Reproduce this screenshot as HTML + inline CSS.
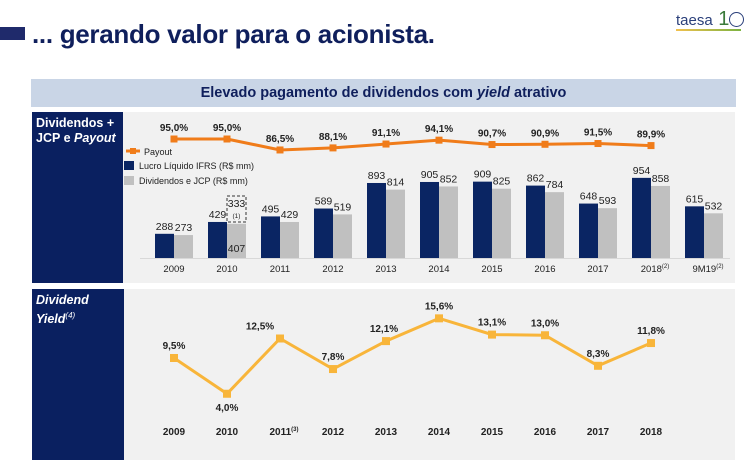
<!DOCTYPE html>
<html><head><meta charset="utf-8"><style>
body{margin:0;width:755px;height:463px;background:#fff;font-family:"Liberation Sans",sans-serif;position:relative;overflow:hidden}
.abs{position:absolute}
</style></head><body>
<div class="abs" style="left:0;top:27px;width:25px;height:13px;background:#1f2a6b"></div>
<div class="abs" style="left:32px;top:19px;font-size:26px;font-weight:bold;color:#0f1f5c;letter-spacing:-0.3px">... gerando valor para o acionista.</div>
<div class="abs" style="left:676px;top:8px;font-size:15px;color:#2a3f7a">taesa<span style="color:#3a7a3a;font-size:20px"> 1</span><span style="display:inline-block;width:13px;height:13px;border:1.5px solid #2a3f7a;border-radius:50%;vertical-align:-2px"></span></div>
<div class="abs" style="left:676px;top:29px;width:65px;height:2px;background:linear-gradient(90deg,#f2c14e,#7cb342)"></div>
<div class="abs" style="left:31px;top:79px;width:705px;height:28px;background:#c9d5e6;text-align:center;line-height:28px;font-size:14.5px;font-weight:bold;color:#0f1f5c">Elevado pagamento de dividendos com <i>yield</i> atrativo</div>
<div class="abs" style="left:32px;top:112px;width:703px;height:171px;background:#f1f1f1"></div>
<div class="abs" style="left:32px;top:112px;width:91px;height:171px;background:#0a2060;color:#fff;font-weight:bold;font-size:12.5px;padding:4px 0 0 4px;box-sizing:border-box;line-height:15px">Dividendos +<br>JCP e <i>Payout</i></div>
<div class="abs" style="left:32px;top:289px;width:703px;height:171px;background:#f1f1f1"></div>
<div class="abs" style="left:32px;top:289px;width:92px;height:171px;background:#0a2060;color:#fff;font-weight:bold;font-style:italic;font-size:12.5px;padding:4px 0 0 4px;box-sizing:border-box;line-height:15px">Dividend<br>Yield<sup style="font-size:8px;font-weight:normal">(4)</sup></div>
<svg class="abs" style="left:0;top:0" width="755" height="463"></svg>
<script>
const years=["2009","2010","2011","2012","2013","2014","2015","2016","2017","2018","9M19"];
const lucro=[288,429,495,589,893,905,909,862,648,954,615];
const divid=[273,407,429,519,814,852,825,784,593,858,532];
const payout=[95.0,95.0,86.5,88.1,91.1,94.1,90.7,90.9,91.5,89.9];
const yieldYears=["2009","2010","2011","2012","2013","2014","2015","2016","2017","2018"];
const yieldVals=[9.5,4.0,12.5,7.8,12.1,15.6,13.1,13.0,8.3,11.8];
const svg=document.querySelector('svg');const NS="http://www.w3.org/2000/svg";
function el(t,a,txt,parent){const e=document.createElementNS(NS,t);for(const k in a)e.setAttribute(k,a[k]);if(txt!==undefined)e.textContent=txt;(parent||svg).appendChild(e);return e;}
const xC=i=>174+i*53;
const base=258, yB=v=>base-v*0.084;
const yP=v=>139+(95-v)*1.29;
const yY=v=>358-(v-9.5)*6.5;
const fmt=v=>v.toFixed(1).replace('.',',')+'%';
let e;
e=el('line',{x1:140,y1:base+0.5,x2:730,y2:base+0.5,stroke:'#d8d8d8','stroke-width':1});


years.forEach((y,i)=>{
  const x=xC(i);
  e=el('rect',{x:x-19,y:yB(lucro[i]),width:19,height:lucro[i]*0.084,fill:'#0a2563'});
  
  
  e=el('rect',{x:x,y:yB(divid[i]),width:19,height:divid[i]*0.084,fill:'#c0c0c0'});
  
  
  e=el('text',{x:x-9.5,y:yB(lucro[i])-4,'font-size':10.5,'text-anchor':'middle',fill:'#222'},lucro[i]);
  
  
  const special=(y==="2010");
  e=el('text',{x:x+9.5,y:special?base-6:yB(divid[i])-4,'font-size':10.5,'text-anchor':'middle',fill:'#222'},divid[i]);
  
  
  const lbl=y==="2018"||y==="9M19";
  e=el('text',{x:lbl?x+4:x,y:272,'font-size':9.5,'text-anchor':'middle',fill:'#222'},y);
  
  
  if(lbl){el('tspan',{'font-size':6,dy:-4},'(2)',e);}
});
e=el('rect',{x:xC(1),y:yB(429)-26,width:19,height:26,fill:'none',stroke:'#333','stroke-dasharray':'3,2'});


e=el('text',{x:xC(1)+9.5,y:yB(429)-15,'font-size':10.5,'text-anchor':'middle',fill:'#222'},'333');


e=el('text',{x:xC(1)+9.5,y:yB(429)-4,'font-size':6.5,'text-anchor':'middle',fill:'#222'},'(1)');


e=el('polyline',{points:payout.map((v,i)=>xC(i)+','+yP(v)).join(' '),fill:'none',stroke:'#f07c1a','stroke-width':3});


payout.forEach((v,i)=>{
  e=el('rect',{x:xC(i)-3.5,y:yP(v)-3.5,width:7,height:7,fill:'#f07c1a'});
  
  
  e=el('text',{x:xC(i),y:yP(v)-8,'font-size':10,'font-weight':'bold','text-anchor':'middle',fill:'#222'},fmt(v));
  
  
});
e=el('line',{x1:126,y1:151,x2:140,y2:151,stroke:'#f07c1a','stroke-width':3});


e=el('rect',{x:130,y:148,width:6,height:6,fill:'#f07c1a'});


e=el('text',{x:144,y:155,'font-size':9,fill:'#222'},'Payout');


e=el('rect',{x:124,y:161,width:10,height:9,fill:'#0a2563'});


e=el('text',{x:139,y:169,'font-size':9,fill:'#222'},'Lucro Líquido IFRS (R$ mm)');


e=el('rect',{x:124,y:176,width:10,height:9,fill:'#c0c0c0'});


e=el('text',{x:139,y:184,'font-size':9,fill:'#222'},'Dividendos e JCP  (R$ mm)');


e=el('polyline',{points:yieldVals.map((v,i)=>xC(i)+','+yY(v)).join(' '),fill:'none',stroke:'#f8b53a','stroke-width':3});


yieldVals.forEach((v,i)=>{
  e=el('rect',{x:xC(i)-4,y:yY(v)-4,width:8,height:8,fill:'#f8b53a'});
  
  
  const below=i===1;
  const ly=below?yY(v)+17:yY(v)-9;
  const lx=i===2?xC(i)-20:(i===4?xC(i)-2:xC(i));
  e=el('text',{x:lx,y:ly,'font-size':10,'font-weight':'bold','text-anchor':'middle',fill:'#222'},fmt(v));
  
  
  e=el('text',{x:i===2?xC(i)+4:xC(i),y:435,'font-size':10,'font-weight':'bold','text-anchor':'middle',fill:'#222'},yieldYears[i]);
  
  
  if(i===2)el('tspan',{'font-size':6,dy:-4},'(3)',e);
});
</script>
</body></html>
